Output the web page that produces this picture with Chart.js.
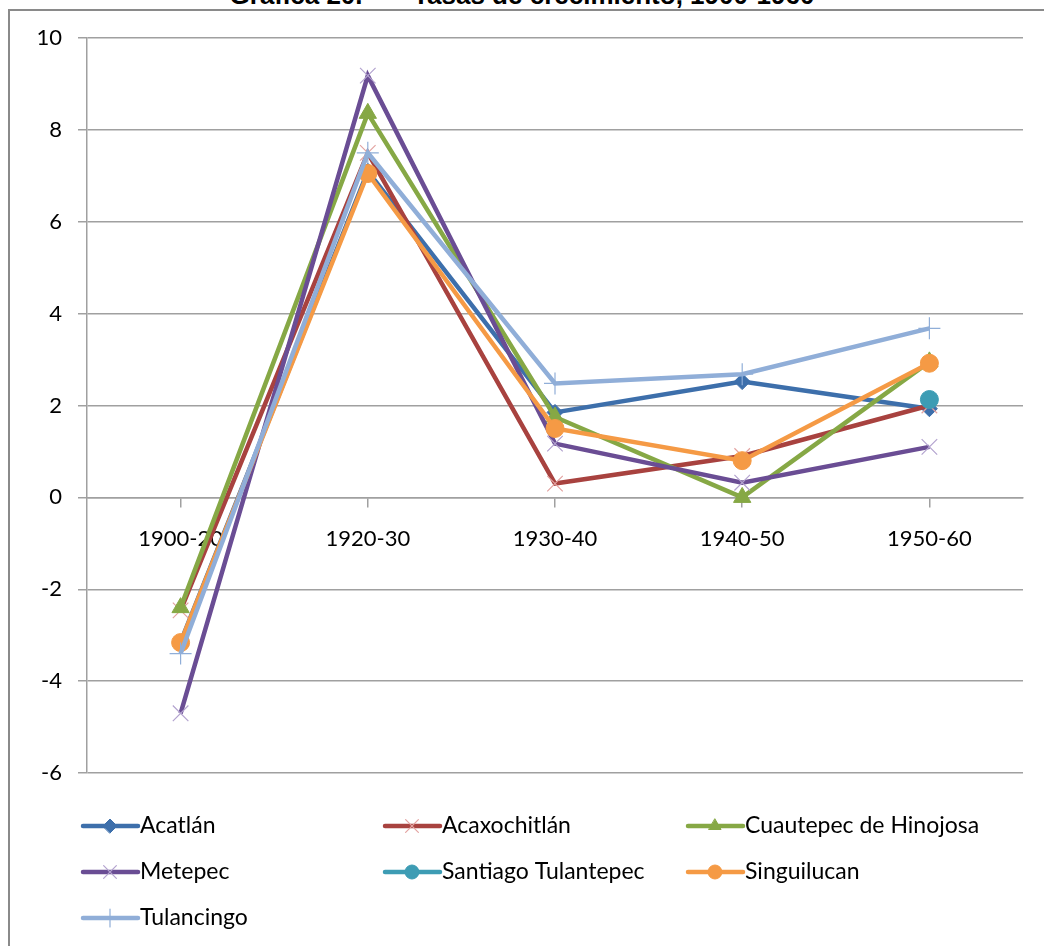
<!DOCTYPE html>
<html>
<head>
<meta charset="utf-8">
<script src="https://cdn.jsdelivr.net/npm/chart.js@4.4.0/dist/chart.umd.min.js"></script>
<style>
  html, body { margin: 0; padding: 0; background: #fff; }
  body { width: 1044px; height: 946px; position: relative; overflow: hidden; }
  #title {
    position: absolute; left: 0; width: 1044px; top: -20px; text-align: center;
    font: bold 26px "Liberation Sans", Arial, sans-serif; color: #000; white-space: pre;
  }
  #frame {
    position: absolute; left: 8px; top: 9px; width: 1100px; height: 1000px;
    border-left: 2px solid #8a8a8a; border-top: 2px solid #8a8a8a;
  }
  #wrap { position: absolute; left: 0; top: 0; width: 1044px; height: 946px; }
</style>
</head>
<body>
<div id="title">Gráfica 20.       Tasas de crecimiento, 1900-1960</div>
<div id="frame"></div>
<div id="wrap"><canvas id="chart"></canvas></div>
<script>
// periods and growth rates per municipality
const periods = ['1900-20', '1920-30', '1930-40', '1940-50', '1950-60'];
const acatlan     = [-3.15, 7.1, 1.85, 2.52, 1.93];
const acaxochitlan = [-2.46, 7.5, 0.3, 0.9, 2.0];
const cuautepec   = [-2.4, 8.36, 1.75, 0.0, 2.95];
const metepec     = [-4.7, 9.18, 1.17, 0.32, 1.1];
const santiago    = [null, null, null, null, 2.13];
const singuilucan = [-3.16, 7.05, 1.5, 0.8, 2.92];
const tulancingo  = [-3.4, 7.5, 2.48, 2.68, 3.68];
const yTicks = [-6, -4, -2, 0, 2, 4, 6, 8, 10];

const fontFamily = 'Lato, "Open Sans", sans-serif';

function series(label, data, color, style, radius, markFill, markBorder, markWidth) {
    return {
        label: label,
        data: data,
        borderColor: color,
        borderWidth: 4.5,
        pointStyle: style,
        pointRadius: radius,
        pointBackgroundColor: markFill,
        pointBorderColor: markBorder,
        pointBorderWidth: markWidth,
        tension: 0,
        spanGaps: false
    };
}

const datasets = [
    series('Acatlán', acatlan, '#3d6fab', 'rectRot', 8, '#3d6fab', '#3d6fab', 1),
    series('Acaxochitlán', acaxochitlan, '#a8423f', 'crossRot', 11, '#e3a3a1', '#e3a3a1', 1.2),
    series('Cuautepec de Hinojosa', cuautepec, '#86a845', 'triangle', 10, '#86a845', '#86a845', 1),
    series('Metepec', metepec, '#6a4d94', 'crossRot', 11, '#b3a3cf', '#b3a3cf', 1.2),
    series('Santiago Tulantepec', santiago, '#3d9cb4', 'circle', 9, '#3d9cb4', '#3d9cb4', 1),
    series('Singuilucan', singuilucan, '#f59a45', 'circle', 9, '#f59a45', '#f59a45', 1),
    series('Tulancingo', tulancingo, '#90aed8', 'cross', 11, '#90aed8', '#90aed8', 1.2)
];
// later series are painted over earlier ones
datasets.forEach((ds, i) => { ds.order = datasets.length - i; });

// legend laid out in three columns under the plot
const legendGrid = {
    id: 'legendGrid',
    afterDraw(chart) {
        const ctx = chart.ctx;
        const cols = [83, 385, 688];
        const rows = [826, 872, 918];
        chart.data.datasets.forEach((ds, i) => {
            const x = cols[i % 3];
            const y = rows[Math.floor(i / 3)];
            ctx.save();
            ctx.strokeStyle = ds.borderColor;
            ctx.lineWidth = 4.5;
            ctx.lineCap = 'round';
            ctx.beginPath();
            ctx.moveTo(x, y);
            ctx.lineTo(x + 55, y);
            ctx.stroke();
            ctx.fillStyle = ds.pointBackgroundColor;
            ctx.strokeStyle = ds.pointBorderColor;
            ctx.lineWidth = ds.pointBorderWidth;
            Chart.helpers.drawPoint(ctx, {
                pointStyle: ds.pointStyle,
                radius: ds.pointStyle.indexOf('cross') === 0 ? 9 : 7,
                rotation: 0,
                borderWidth: ds.pointBorderWidth
            }, x + 27, y);
            ctx.fillStyle = '#000';
            ctx.font = '23px ' + fontFamily;
            ctx.textBaseline = 'middle';
            ctx.textAlign = 'left';
            ctx.fillText(ds.label, x + 57, y);
            ctx.restore();
        });
    }
};

new Chart(document.getElementById('chart'), {
    type: 'line',
    data: { labels: periods, datasets: datasets },
    plugins: [legendGrid],
    options: {
        responsive: true,
        maintainAspectRatio: false,
        animation: false,
        layout: { padding: { left: 0, top: 38, right: 21, bottom: 173 } },
        plugins: {
            legend: { display: false },
            tooltip: { enabled: false }
        },
        scales: {
            x: {
                type: 'category',
                offset: true,
                position: { y: 0 },
                grid: {
                    drawOnChartArea: false,
                    drawTicks: true,
                    tickLength: 9,
                    color: '#a0a0a0',
                    lineWidth: 1.5
                },
                border: { display: true, color: '#a0a0a0', width: 1.5 },
                ticks: {
                    color: '#000',
                    font: { family: fontFamily, size: 22 },
                    padding: 19,
                    maxRotation: 0
                }
            },
            y: {
                min: -6,
                max: 10,
                afterBuildTicks: (scale) => { scale.ticks = yTicks.map(v => ({ value: v })); },
                afterFit: (scale) => { scale.width = 87; },
                grid: {
                    color: '#a0a0a0',
                    lineWidth: 1.5,
                    tickLength: 9
                },
                border: { display: true, color: '#a0a0a0', width: 1.5 },
                ticks: {
                    color: '#000',
                    font: { family: fontFamily, size: 22 },
                    padding: 16
                }
            }
        }
    }
});
</script>
</body>
</html>
